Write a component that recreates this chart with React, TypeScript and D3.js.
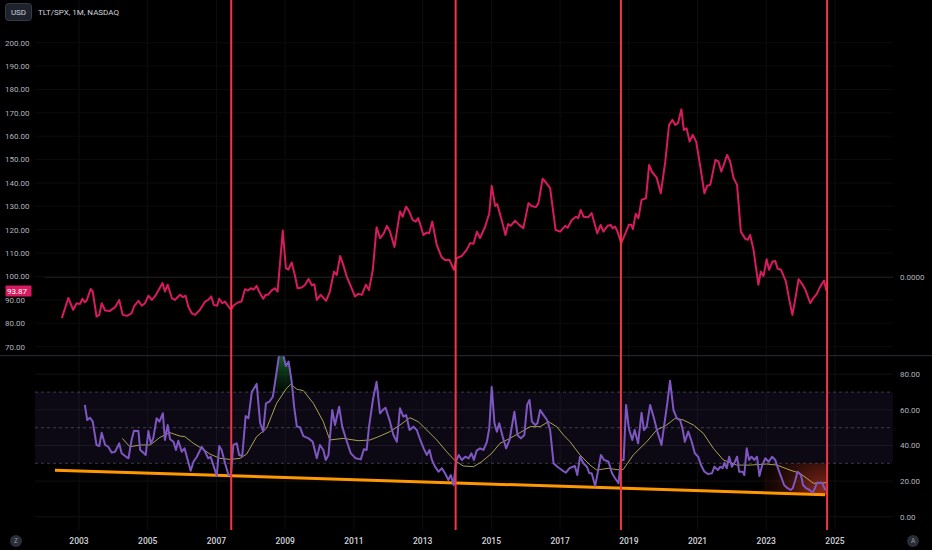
import React, { useEffect } from "react";
import * as d3 from "d3";

// ---------- DATA ----------
const title = "TLT/SPX, 1M, NASDAQ";
const lastPrice = "93.87";
const priceTicks = [200, 190, 180, 170, 160, 150, 140, 130, 120, 110, 100, 90, 80, 70];
const rsiTicks = [80, 60, 40, 20, 0];
const rsiBands = [70, 50, 30];
const yearTicks = [2003, 2005, 2007, 2009, 2011, 2013, 2015, 2017, 2019, 2021, 2023, 2025];
const eventYears = [2007.43, 2013.96, 2018.77, 2024.77];
const trendYears = [2002.3, 2024.71];
const trendValues = [26.1, 12.4];

const priceYears = [
  2002.5, 2002.69, 2002.83, 2002.93, 2003.03, 2003.1, 2003.17, 2003.23, 2003.34, 2003.4, 2003.51, 2003.59,
  2003.66, 2003.76, 2003.9, 2004.05, 2004.17, 2004.27, 2004.39, 2004.53, 2004.6, 2004.73, 2004.83, 2004.92,
  2005.02, 2005.12, 2005.21, 2005.31, 2005.43, 2005.5, 2005.58, 2005.7, 2005.79, 2005.94, 2006.02, 2006.1,
  2006.18, 2006.28, 2006.38, 2006.52, 2006.67, 2006.76, 2006.85, 2006.92, 2007.02, 2007.08, 2007.17, 2007.25,
  2007.35, 2007.42, 2007.49, 2007.62, 2007.73, 2007.83, 2007.92, 2008.0, 2008.08, 2008.17, 2008.24, 2008.36,
  2008.43, 2008.5, 2008.6, 2008.7, 2008.78, 2008.93, 2009.02, 2009.09, 2009.19, 2009.29, 2009.36, 2009.48,
  2009.58, 2009.68, 2009.78, 2009.85, 2009.92, 2010.03, 2010.19, 2010.3, 2010.42, 2010.5, 2010.6, 2010.69,
  2010.79, 2010.89, 2011.03, 2011.13, 2011.23, 2011.35, 2011.44, 2011.55, 2011.66, 2011.76, 2011.86, 2011.96,
  2012.05, 2012.18, 2012.34, 2012.42, 2012.52, 2012.61, 2012.71, 2012.8, 2012.87, 2012.95, 2013.02, 2013.12,
  2013.19, 2013.28, 2013.41, 2013.55, 2013.65, 2013.78, 2013.91, 2013.99, 2014.14, 2014.28, 2014.38, 2014.48,
  2014.58, 2014.67, 2014.82, 2014.94, 2015.01, 2015.11, 2015.17, 2015.3, 2015.41, 2015.49, 2015.56, 2015.69,
  2015.81, 2015.93, 2016.08, 2016.17, 2016.3, 2016.37, 2016.49, 2016.59, 2016.71, 2016.78, 2016.87, 2017.0,
  2017.15, 2017.22, 2017.34, 2017.46, 2017.53, 2017.6, 2017.68, 2017.82, 2017.92, 2018.08, 2018.18, 2018.26,
  2018.38, 2018.47, 2018.53, 2018.6, 2018.67, 2018.78, 2018.9, 2019.0, 2019.07, 2019.12, 2019.2, 2019.28,
  2019.37, 2019.5, 2019.59, 2019.68, 2019.81, 2019.93, 2020.06, 2020.17, 2020.27, 2020.35, 2020.43, 2020.53,
  2020.6, 2020.68, 2020.77, 2020.86, 2020.96, 2021.08, 2021.2, 2021.28, 2021.37, 2021.52, 2021.61, 2021.69,
  2021.76, 2021.86, 2021.95, 2022.05, 2022.15, 2022.26, 2022.39, 2022.46, 2022.53, 2022.63, 2022.77, 2022.84,
  2022.92, 2023.01, 2023.08, 2023.18, 2023.26, 2023.33, 2023.43, 2023.57, 2023.66, 2023.76, 2023.84, 2023.94,
  2024.04, 2024.13, 2024.28, 2024.37, 2024.47, 2024.57, 2024.68, 2024.75,
];
const priceValues = [
  82.2, 90.8, 85.8, 88.6, 88.3, 90.5, 89.0, 90.0, 94.7, 93.6, 82.9, 83.6,
  88.6, 85.5, 85.3, 86.9, 90.0, 83.6, 83.2, 84.3, 87.2, 89.6, 87.5, 88.6,
  91.8, 90.0, 91.5, 94.0, 97.2, 93.6, 96.5, 90.8, 90.0, 92.2, 91.2, 91.8,
  87.2, 84.3, 83.6, 85.8, 89.3, 90.0, 91.5, 87.9, 87.5, 90.5, 88.6, 89.3,
  87.2, 85.8, 87.5, 88.9, 89.3, 94.6, 94.0, 95.0, 94.4, 96.0, 93.6, 90.5,
  92.2, 92.2, 94.0, 95.0, 93.6, 119.7, 103.6, 102.9, 106.0, 100.0, 95.0, 95.3,
  96.5, 99.0, 96.2, 96.7, 90.0, 92.2, 89.6, 93.6, 102.1, 100.7, 108.8, 105.0,
  100.0, 96.5, 91.5, 92.6, 92.2, 96.5, 94.3, 102.9, 121.1, 116.4, 118.2, 121.7,
  119.2, 112.6, 127.8, 125.6, 129.9, 127.8, 124.2, 123.5, 125.0, 121.4, 117.8, 118.8,
  118.5, 123.5, 113.5, 108.3, 107.1, 107.1, 102.9, 107.9, 108.8, 111.4, 114.3, 114.0,
  119.2, 116.4, 121.4, 127.1, 138.8, 130.2, 131.0, 124.2, 117.8, 122.5, 121.7, 123.9,
  122.1, 120.7, 131.4, 130.2, 129.7, 131.4, 141.8, 140.2, 137.8, 129.9, 119.9, 119.2,
  121.7, 120.9, 124.2, 125.6, 125.0, 128.5, 125.6, 125.4, 127.1, 118.5, 122.1, 119.2,
  121.7, 122.1, 120.7, 121.4, 119.2, 114.3, 118.5, 122.1, 122.1, 120.3, 126.8, 125.0,
  132.8, 133.5, 147.7, 144.6, 142.3, 135.6, 149.0, 164.8, 167.0, 164.8, 165.6, 171.5,
  162.7, 163.4, 157.7, 160.6, 157.7, 147.0, 135.6, 138.8, 139.2, 149.9, 149.1, 144.9,
  147.7, 152.0, 149.1, 142.0, 139.2, 119.2, 116.1, 115.7, 117.8, 111.4, 96.5, 102.1,
  100.3, 107.4, 102.9, 106.4, 106.7, 103.3, 102.9, 97.9, 90.8, 83.6, 90.0, 98.9,
  96.9, 94.6, 88.6, 90.8, 92.6, 95.7, 98.3, 93.87,
];

const rsiYears = [
  2003.17, 2003.24, 2003.32, 2003.4, 2003.51, 2003.59, 2003.66, 2003.76, 2003.85, 2003.95, 2004.05, 2004.17,
  2004.24, 2004.34, 2004.44, 2004.53, 2004.6, 2004.73, 2004.78, 2004.87, 2004.94, 2005.02, 2005.09, 2005.16,
  2005.26, 2005.34, 2005.44, 2005.5, 2005.58, 2005.65, 2005.75, 2005.82, 2005.89, 2005.99, 2006.07, 2006.15,
  2006.25, 2006.33, 2006.43, 2006.57, 2006.67, 2006.76, 2006.83, 2006.91, 2007.01, 2007.08, 2007.15, 2007.25,
  2007.35, 2007.42, 2007.49, 2007.59, 2007.66, 2007.75, 2007.85, 2007.93, 2008.03, 2008.17, 2008.27, 2008.36,
  2008.44, 2008.54, 2008.64, 2008.73, 2008.83, 2008.93, 2009.02, 2009.1, 2009.19, 2009.26, 2009.34, 2009.43,
  2009.53, 2009.68, 2009.8, 2009.92, 2010.01, 2010.11, 2010.18, 2010.26, 2010.37, 2010.45, 2010.57, 2010.66,
  2010.78, 2010.91, 2011.05, 2011.2, 2011.29, 2011.37, 2011.44, 2011.56, 2011.66, 2011.76, 2011.84, 2011.92,
  2012.05, 2012.15, 2012.25, 2012.34, 2012.44, 2012.52, 2012.62, 2012.73, 2012.83, 2012.93, 2013.03, 2013.12,
  2013.2, 2013.27, 2013.36, 2013.46, 2013.56, 2013.65, 2013.75, 2013.82, 2013.9, 2013.97, 2014.05, 2014.14,
  2014.24, 2014.34, 2014.42, 2014.49, 2014.57, 2014.67, 2014.77, 2014.87, 2014.94, 2015.01, 2015.09, 2015.16,
  2015.23, 2015.33, 2015.43, 2015.53, 2015.67, 2015.76, 2015.86, 2015.96, 2016.04, 2016.11, 2016.18, 2016.28,
  2016.34, 2016.42, 2016.52, 2016.62, 2016.71, 2016.81, 2016.92, 2017.05, 2017.17, 2017.27, 2017.43, 2017.5,
  2017.58, 2017.68, 2017.78, 2017.85, 2017.92, 2018.02, 2018.1, 2018.19, 2018.28, 2018.41, 2018.51, 2018.6,
  2018.7, 2018.77, 2018.85, 2018.92, 2019.0, 2019.1, 2019.17, 2019.27, 2019.37, 2019.44, 2019.52, 2019.62,
  2019.72, 2019.83, 2019.95, 2020.05, 2020.12, 2020.2, 2020.3, 2020.4, 2020.49, 2020.56, 2020.63, 2020.73,
  2020.83, 2020.92, 2021.02, 2021.1, 2021.2, 2021.3, 2021.42, 2021.49, 2021.59, 2021.66, 2021.73, 2021.78,
  2021.85, 2021.92, 2022.0, 2022.09, 2022.15, 2022.21, 2022.31, 2022.36, 2022.43, 2022.5, 2022.57, 2022.65,
  2022.73, 2022.8, 2022.87, 2022.97, 2023.07, 2023.17, 2023.26, 2023.36, 2023.43, 2023.52, 2023.62, 2023.71,
  2023.77, 2023.84, 2023.91, 2024.01, 2024.07, 2024.16, 2024.26, 2024.36, 2024.48, 2024.62, 2024.72,
];
const rsiValues = [
  62.8, 54.3, 55.6, 53.4, 40.3, 39.7, 47.2, 40.3, 39.3, 36.0, 36.5, 41.2,
  35.6, 34.1, 32.8, 43.1, 48.3, 48.1, 37.5, 36.0, 34.7, 48.1, 41.2, 44.0,
  55.3, 53.4, 58.1, 43.1, 51.5, 43.5, 42.1, 37.5, 42.7, 36.5, 38.4, 32.8,
  25.8, 30.9, 33.7, 39.3, 36.5, 32.8, 33.7, 29.0, 22.9, 39.7, 37.5, 30.0,
  23.4, 23.4, 40.3, 41.2, 34.7, 34.1, 56.6, 55.3, 70.2, 74.6, 52.8, 47.8,
  63.7, 64.6, 67.4, 78.7, 92.0, 92.0, 84.7, 87.1, 75.8, 61.8, 50.6, 50.2,
  45.3, 44.0, 42.1, 32.8, 40.3, 37.5, 31.9, 34.7, 59.9, 51.5, 61.8, 50.6,
  43.1, 35.6, 32.8, 32.2, 37.9, 37.5, 50.6, 66.5, 75.8, 58.1, 59.9, 61.2,
  53.4, 45.9, 42.1, 60.9, 56.2, 57.1, 48.7, 50.6, 48.7, 43.1, 38.4, 34.7,
  37.5, 31.9, 28.1, 25.3, 27.2, 24.4, 20.6, 23.4, 17.8, 30.9, 34.7, 31.9,
  33.7, 32.8, 35.6, 31.9, 37.1, 38.4, 37.5, 42.1, 49.7, 73.0, 52.5, 47.8,
  52.5, 44.9, 38.4, 43.1, 59.0, 45.9, 44.0, 45.9, 62.8, 65.6, 53.4, 51.5,
  52.5, 59.9, 57.1, 54.3, 48.7, 30.0, 28.1, 26.2, 24.7, 27.2, 28.5, 23.4,
  33.7, 30.0, 28.1, 24.4, 24.4, 17.2, 25.3, 34.7, 31.9, 30.9, 24.4, 21.6,
  18.8, 31.9, 31.9, 62.8, 49.7, 43.1, 48.7, 41.2, 58.4, 48.7, 50.6, 62.8,
  56.2, 47.8, 40.3, 54.3, 63.7, 76.4, 59.9, 55.3, 54.3, 49.7, 42.1, 47.8,
  42.1, 35.6, 33.7, 29.0, 25.3, 24.0, 24.4, 28.1, 26.2, 28.1, 27.2, 30.3,
  27.2, 33.7, 28.1, 30.9, 33.7, 25.3, 25.3, 23.4, 38.4, 31.9, 33.7, 31.9,
  33.7, 22.9, 28.1, 32.8, 30.9, 33.7, 31.9, 26.2, 22.5, 17.8, 16.0, 15.0,
  16.0, 20.2, 25.3, 23.4, 17.8, 16.0, 15.0, 13.5, 19.1, 19.1, 15.0,
];

const smaYears = [
  2004.26, 2004.48, 2004.78, 2005.07, 2005.36, 2005.65, 2005.94, 2006.08, 2006.33, 2006.57, 2006.81, 2007.1,
  2007.39, 2007.69, 2007.88, 2008.17, 2008.46, 2008.75, 2009.04, 2009.16, 2009.34, 2009.53, 2009.82, 2010.11,
  2010.3, 2010.69, 2011.13, 2011.47, 2011.76, 2012.05, 2012.34, 2012.63, 2012.87, 2013.12, 2013.41, 2013.7,
  2013.94, 2014.18, 2014.48, 2014.72, 2015.01, 2015.25, 2015.54, 2015.83, 2016.13, 2016.42, 2016.66, 2016.9,
  2017.1, 2017.29, 2017.58, 2017.87, 2018.07, 2018.4, 2018.75, 2018.84, 2019.13, 2019.52, 2019.81, 2020.1,
  2020.35, 2020.59, 2020.88, 2021.17, 2021.46, 2021.75, 2022.14, 2022.53, 2023.01, 2023.31, 2023.69, 2023.98,
  2024.37, 2024.76,
];
const smaValues = [
  44.0, 39.3, 40.3, 40.3, 44.6, 47.2, 45.3, 45.0, 41.2, 38.4, 35.2, 32.8,
  32.2, 32.8, 35.2, 45.0, 49.7, 63.7, 72.1, 74.4, 71.6, 70.8, 63.7, 53.4,
  43.1, 44.0, 42.7, 43.1, 45.3, 47.8, 51.5, 55.6, 53.4, 48.7, 43.1, 36.5,
  31.5, 28.5, 28.1, 30.9, 35.6, 41.2, 44.0, 47.2, 50.6, 50.6, 53.4, 50.6,
  45.9, 42.1, 34.7, 29.0, 26.2, 27.2, 26.2, 26.6, 34.7, 42.1, 48.7, 51.5,
  55.3, 54.3, 51.5, 46.8, 38.4, 31.9, 29.0, 29.0, 29.6, 29.0, 26.2, 24.4,
  18.8, 19.1,
];
const glowYears = [2022.9, 2024.77];

// ---------- LAYOUT ----------
const W = 932;
const H = 550;
const FONT = "Roboto, 'Noto Sans', sans-serif";
const gridLeft = 35;
const gridRight = 893;
const paneSplit = 355.7;
const plotBottom = 530;

export default function App() {
  useEffect(() => {
    document.body.style.margin = "0";
    document.body.style.background = "#000";
  }, []);

  const x = d3.scaleLinear().domain([2003, 2025]).range([79, 835]);
  const yP = d3.scaleLinear().domain([70, 200]).range([346.7, 42.7]);
  const yR = d3.scaleLinear().domain([0, 80]).range([516.7, 374.3]);

  const price = priceYears.map((t, i) => [t, priceValues[i]] as [number, number]);
  const rsi = rsiYears.map((t, i) => [t, rsiValues[i]] as [number, number]);
  const sma = smaYears.map((t, i) => [t, smaValues[i]] as [number, number]);
  const trend = trendYears.map((t, i) => [t, trendValues[i]] as [number, number]);

  const priceLine = d3.line<[number, number]>().x((d) => x(d[0])).y((d) => yP(d[1]))(price) || "";
  const rsiLine = d3.line<[number, number]>().x((d) => x(d[0])).y((d) => yR(d[1]))(rsi) || "";
  const smaLine = d3.line<[number, number]>().x((d) => x(d[0])).y((d) => yR(d[1]))(sma) || "";
  const trendLine = d3.line<[number, number]>().x((d) => x(d[0])).y((d) => yR(d[1]))(trend) || "";

  const obArea =
    d3
      .area<[number, number]>()
      .x((d) => x(d[0]))
      .y0(yR(70))
      .y1((d) => yR(Math.max(70, d[1])))(rsi) || "";

  const trendAt = (t: number) =>
    trendValues[0] + ((t - trendYears[0]) / (trendYears[1] - trendYears[0])) * (trendValues[1] - trendValues[0]);
  const glowPts: [number, number][] = [
    [x(glowYears[0]), yR(30)],
    [x(glowYears[1]), yR(30)],
    [x(glowYears[1]), yR(trendAt(glowYears[1]))],
    [x(glowYears[0]), yR(trendAt(glowYears[0]))],
  ];
  const glowPath = "M" + glowPts.map((p) => p.join(",")).join("L") + "Z";

  const txt = { fontFamily: FONT, fontSize: 8, fill: "#b2b5be" } as const;

  return (
    <svg width={W} height={H} style={{ position: "absolute", left: 0, top: 0, background: "#000", display: "block" }}>
      <defs>
        <clipPath id="pricePane">
          <rect x={0} y={0} width={gridRight} height={paneSplit} />
        </clipPath>
        <clipPath id="rsiPane">
          <rect x={0} y={paneSplit + 0.5} width={gridRight} height={plotBottom - paneSplit} />
        </clipPath>
        <linearGradient id="obGrad" x1="0" y1={yR(95)} x2="0" y2={yR(70)} gradientUnits="userSpaceOnUse">
          <stop offset="0" stopColor="#1b8a3a" stopOpacity={0.9} />
          <stop offset="1" stopColor="#0d3a18" stopOpacity={0.2} />
        </linearGradient>
        <radialGradient
          id="glow"
          gradientUnits="userSpaceOnUse"
          cx={x(glowYears[1]) - 4}
          cy={yR(trendAt(glowYears[1]))}
          r={75}
        >
          <stop offset="0" stopColor="#b8372a" stopOpacity={0.8} />
          <stop offset="0.45" stopColor="#7a2516" stopOpacity={0.45} />
          <stop offset="1" stopColor="#2a0c06" stopOpacity={0} />
        </radialGradient>
      </defs>

      <rect x={0} y={0} width={W} height={H} fill="#000" />

      {/* vertical grid */}
      {yearTicks.map((t) => (
        <line key={"vg" + t} x1={x(t)} x2={x(t)} y1={0} y2={plotBottom} stroke="#0e0e0e" strokeWidth={1} />
      ))}

      {/* price pane horizontal grid */}
      {priceTicks.map((v) => (
        <line
          key={"pg" + v}
          x1={gridLeft}
          x2={gridRight}
          y1={yP(v)}
          y2={yP(v)}
          stroke="#0c0c0c"
          strokeWidth={1}
        />
      ))}
      <line x1={gridLeft + 10} x2={gridRight} y1={yP(100) + 1} y2={yP(100) + 1} stroke="#1a1a1a" strokeWidth={1} />

      {/* RSI pane grid & band */}
      {rsiTicks.map((v) => (
        <line key={"rg" + v} x1={gridLeft} x2={gridRight} y1={yR(v)} y2={yR(v)} stroke="#111111" strokeWidth={1} />
      ))}
      <rect
        x={gridLeft}
        y={yR(70)}
        width={gridRight - gridLeft}
        height={yR(30) - yR(70)}
        fill="rgba(126,87,194,0.1)"
      />
      {rsiBands.map((v) => (
        <line
          key={"rb" + v}
          x1={gridLeft}
          x2={gridRight}
          y1={yR(v)}
          y2={yR(v)}
          stroke="#787b86"
          strokeOpacity={0.6}
          strokeDasharray="3,3"
          strokeWidth={0.8}
        />
      ))}

      {/* pane separator */}
      <line x1={0} x2={W} y1={paneSplit} y2={paneSplit} stroke="#2a2e39" strokeWidth={1} />

      {/* price line */}
      <g clipPath="url(#pricePane)">
        <path d={priceLine} fill="none" stroke="#d81b60" strokeWidth={2} strokeLinejoin="round" />
      </g>

      {/* RSI pane drawings */}
      <g clipPath="url(#rsiPane)">
        <path d={glowPath} fill="url(#glow)" />
        <path d={obArea} fill="url(#obGrad)" />
        <path d={trendLine} fill="none" stroke="#ff9800" strokeWidth={3} />
        <path d={smaLine} fill="none" stroke="#e6dd6b" strokeWidth={0.8} strokeOpacity={0.9} />
        <path d={rsiLine} fill="none" stroke="#7e57c2" strokeWidth={2} strokeLinejoin="round" />
      </g>

      {/* event lines */}
      {eventYears.map((t) => (
        <line key={"ev" + t} x1={x(t)} x2={x(t)} y1={0} y2={plotBottom} stroke="#f23645" strokeWidth={2} />
      ))}

      {/* left price axis labels */}
      {priceTicks.map((v) => (
        <text key={"pl" + v} x={5} y={yP(v)} dy="0.35em" {...txt}>
          {v.toFixed(2)}
        </text>
      ))}
      <rect x={5.5} y={yP(93.87) - 5.5} width={26} height={11} fill="#d81b60" rx={1} />
      <text x={7} y={yP(93.87)} dy="0.35em" fontFamily={FONT} fontSize={8} fill="#ffffff">
        {lastPrice}
      </text>

      {/* right axis labels */}
      <text x={900} y={yP(100) + 1} dy="0.35em" {...txt}>
        0.0000
      </text>
      {rsiTicks.map((v) => (
        <text key={"rl" + v} x={900} y={yR(v)} dy="0.35em" {...txt}>
          {v.toFixed(2)}
        </text>
      ))}

      {/* x axis labels */}
      {yearTicks.map((t) => (
        <text
          key={"xl" + t}
          x={x(t)}
          y={541}
          dy="0.35em"
          textAnchor="middle"
          fontFamily={FONT}
          fontSize={8.5}
          fontWeight={500}
          fill="#d1d4dc"
        >
          {t}
        </text>
      ))}

      {/* header */}
      <rect x={5.5} y={3.5} width={26} height={17} rx={3} fill="#1e222d" stroke="#363a45" strokeWidth={1} />
      <text x={18.5} y={12} dy="0.35em" textAnchor="middle" fontFamily={FONT} fontSize={8} fill="#d1d4dc">
        USD
      </text>
      <text x={38} y={12} dy="0.35em" fontFamily={FONT} fontSize={8} fill="#d1d4dc">
        {title}
      </text>

      {/* corner buttons */}
      <circle cx={16} cy={541} r={6} fill="#2a2e39" />
      <text x={16} y={541} dy="0.35em" textAnchor="middle" fontFamily={FONT} fontSize={6.5} fill="#9598a1">
        Z
      </text>
      <circle cx={913} cy={541} r={6} fill="#2a2e39" />
      <text x={913} y={541} dy="0.35em" textAnchor="middle" fontFamily={FONT} fontSize={6.5} fill="#9598a1">
        A
      </text>
    </svg>
  );
}
